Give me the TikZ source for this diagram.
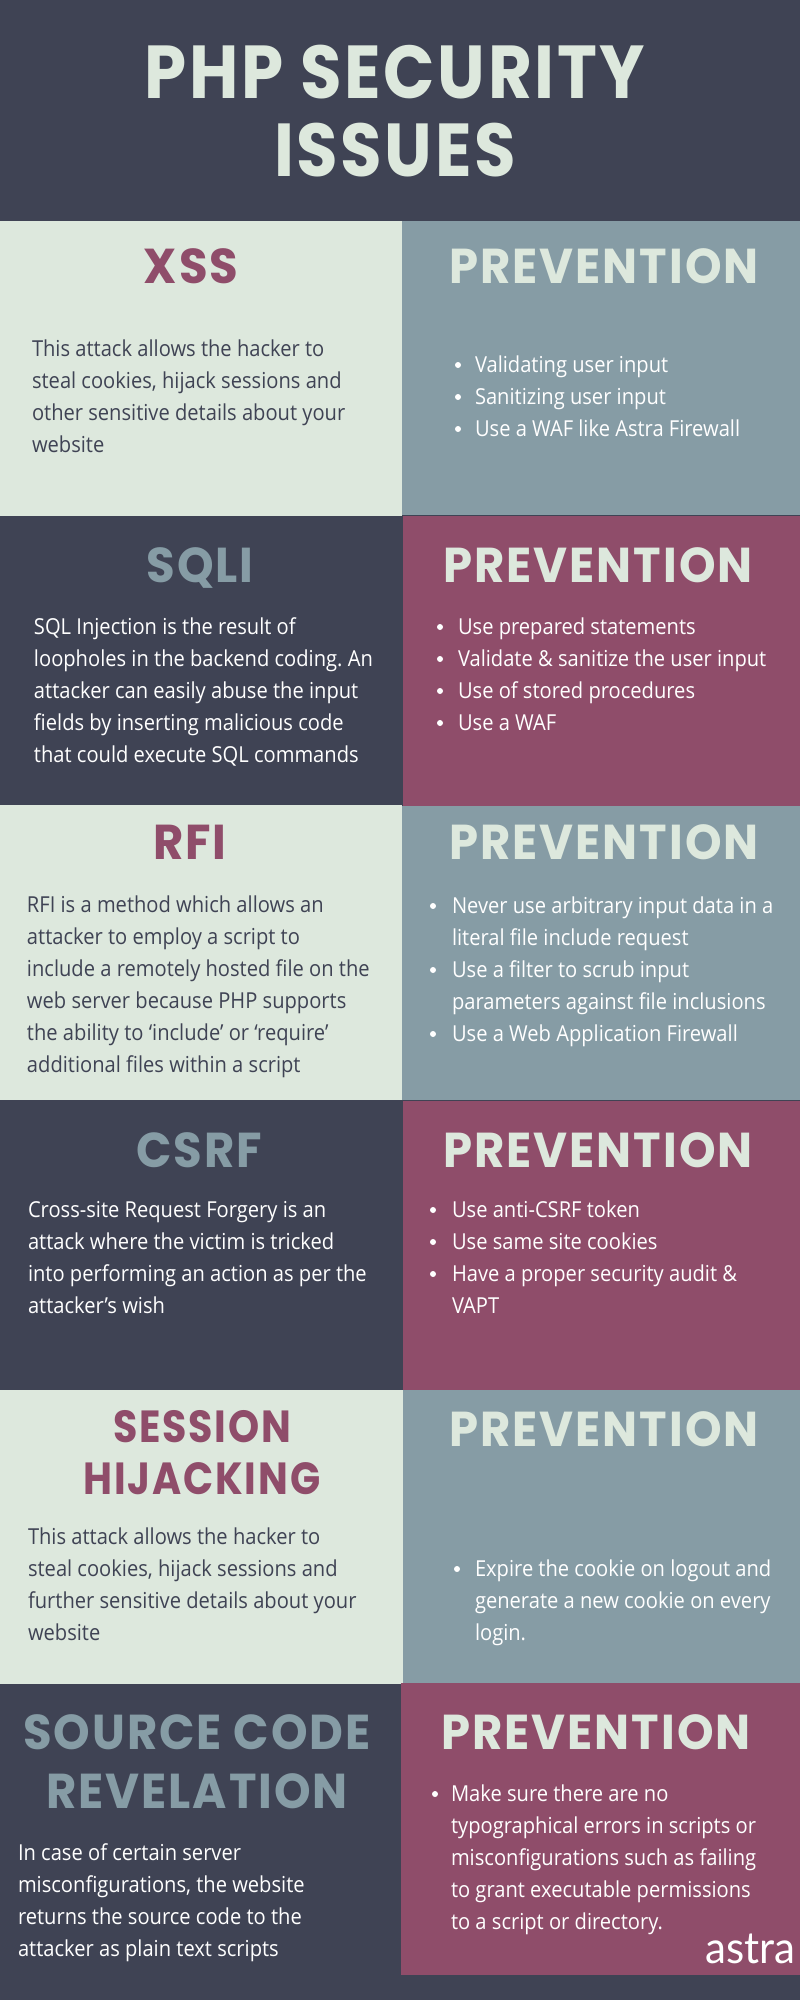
\documentclass[tikz,border=0pt]{standalone}
\usepackage{fontspec}
\setmainfont[FakeStretch=0.915]{Open Sans}
\newfontfamily\logofont[FakeStretch=0.955]{Lato}
\newfontfamily\headfont[FakeStretch=0.95,LetterSpace=4]{Poppins}
\newfontfamily\sessfont[FakeStretch=0.88,LetterSpace=4]{Poppins}
\newfontfamily\titlefont[FakeStretch=0.9,LetterSpace=3.5]{Poppins}
\definecolor{inkdark}{HTML}{3F4354}
\definecolor{paleg}{HTML}{DDE8DD}
\definecolor{slate}{HTML}{869CA5}
\definecolor{plum}{HTML}{8F4D6A}
\frenchspacing
\tikzset{
  x=1pt,y=-1pt,
  txt/.style={inner sep=0,outer sep=0,anchor=base west,font=\fontsize{22}{32}\selectfont\frenchspacing},
  tdark/.style={txt,text=inkdark},
  twhite/.style={txt,text=white},
  dot/.style={circle,fill=white,inner sep=0,minimum size=6pt},
  head/.style={inner sep=0,outer sep=0,anchor=base,font=\headfont\bfseries\fontsize{49}{49}\selectfont},
  smallhead/.style={head,font=\sessfont\bfseries\fontsize{45}{45}\selectfont},
  bighead/.style={inner sep=0,outer sep=0,anchor=base,text=paleg,font=\titlefont\bfseries\fontsize{75}{75}\selectfont},
}
\begin{document}
\begin{tikzpicture}
\useasboundingbox (0,0) rectangle (800,2000);
\fill[inkdark] (0,0) rectangle (800,2000);
\fill[paleg] (0,221) rectangle (402,516);
\fill[paleg] (0,805) rectangle (402,1100);
\fill[paleg] (0,1390) rectangle (403,1684);
\fill[slate] (402,221) rectangle (800,514.5);
\fill[slate] (402,806) rectangle (800,1100);
\fill[slate] (403,1390) rectangle (800,1683);
\fill[plum] (403,516) rectangle (800,806);
\fill[plum] (403,1100.5) rectangle (800,1390);
\fill[plum] (401,1683) rectangle (800,1975);
% title
\node[bighead] (t1) at (395,98) {PHP SECURITY};
\node[bighead] (t2) at (395,176) {ISSUES};
% XSS
\node[head,text=plum] (h1) at (191,283) {XSS};
\node[head,text=paleg] (p1) at (604,283) {PREVENTION};
\node[tdark] (a1) at (32,356) {This attack allows the hacker to};
\node[tdark] (a2) at (32,388) {steal cookies, hijack sessions and};
\node[tdark] (a3) at (32,420) {other sensitive details about your};
\node[tdark] (a4) at (32,452) {website};
\node[dot] at (458,365) {};\node[twhite] (b1) at (475,372) {Validating user input};
\node[dot] at (458,397) {};\node[twhite] (b2) at (475,404) {Sanitizing user input};
\node[dot] at (458,429) {};\node[twhite] (b3) at (475,436) {Use a WAF like Astra Firewall};
% SQLI
\node[head,text=slate] (h2) at (200,582) {SQLI};
\node[head,text=paleg] (p2) at (598,582) {PREVENTION};
\node[twhite] (c1) at (34,634) {SQL Injection is the result of};
\node[twhite] (c2) at (34,666) {loopholes in the backend coding. An};
\node[twhite] (c3) at (34,698) {attacker can easily abuse the input};
\node[twhite] (c4) at (34,730) {fields by inserting malicious code};
\node[twhite] (c5) at (34,762) {that could execute SQL commands};
\node[dot] at (440,627) {};\node[twhite] (d1) at (458,634) {Use prepared statements};
\node[dot] at (440,659) {};\node[twhite] (d2) at (458,666) {Validate \& sanitize the user input};
\node[dot] at (440,691) {};\node[twhite] (d3) at (458,698) {Use of stored procedures};
\node[dot] at (440,723) {};\node[twhite] (d4) at (458,730) {Use a WAF};
% RFI
\node[head,text=plum] (h3) at (190,859) {RFI};
\node[head,text=paleg] (p3) at (604,859) {PREVENTION};
\node[tdark] (e1) at (27,912) {RFI is a method which allows an};
\node[tdark] (e2) at (27,944) {attacker to employ a script to};
\node[tdark] (e3) at (27,976) {include a remotely hosted file on the};
\node[tdark] (e4) at (27,1008) {web server because PHP supports};
\node[tdark] (e5) at (27,1040) {the ability to ‘include’ or ‘require’};
\node[tdark] (e6) at (27,1072) {additional files within a script};
\node[dot] at (433,906) {};\node[twhite] (f1) at (452,913) {Never use arbitrary input data in a};
\node[twhite] (f2) at (452,945) {literal file include request};
\node[dot] at (433,970) {};\node[twhite] (f3) at (452,977) {Use a filter to scrub input};
\node[twhite] (f4) at (452,1009) {parameters against file inclusions};
\node[dot] at (433,1034) {};\node[twhite] (f5) at (452,1041) {Use a Web Application Firewall};
% CSRF
\node[head,text=slate] (h4) at (199,1167) {CSRF};
\node[head,text=paleg] (p4) at (598,1167) {PREVENTION};
\node[twhite] (g1) at (28,1217) {Cross-site Request Forgery is an};
\node[twhite] (g2) at (28,1249) {attack where the victim is tricked};
\node[twhite] (g3) at (28,1281) {into performing an action as per the};
\node[twhite] (g4) at (28,1313) {attacker’s wish};
\node[dot] at (433,1210) {};\node[twhite] (i1) at (452,1217) {Use anti-CSRF token};
\node[dot] at (433,1242) {};\node[twhite] (i2) at (452,1249) {Use same site cookies};
\node[dot] at (433,1274) {};\node[twhite] (i3) at (452,1281) {Have a proper security audit \&};
\node[twhite] (i4) at (452,1313) {VAPT};
% Session
\node[smallhead,text=plum] (h5a) at (202,1442) {SESSION};
\node[smallhead,text=plum] (h5b) at (202,1494) {HIJACKING};
\node[head,text=paleg] (p5) at (604,1446) {PREVENTION};
\node[tdark] (j1) at (28,1544) {This attack allows the hacker to};
\node[tdark] (j2) at (28,1576) {steal cookies, hijack sessions and};
\node[tdark] (j3) at (28,1608) {further sensitive details about your};
\node[tdark] (j4) at (28,1640) {website};
\node[dot] at (457,1569) {};\node[twhite] (k1) at (475,1576) {Expire the cookie on logout and};
\node[twhite] (k2) at (475,1608) {generate a new cookie on every};
\node[twhite] (k3) at (475,1640) {login.};
% Source
\node[head,text=slate] (h6a) at (197,1749) {SOURCE CODE};
\node[head,text=slate] (h6b) at (197,1808) {REVELATION};
\node[head,text=paleg] (p6) at (596,1749) {PREVENTION};
\node[twhite] (m1) at (18,1860) {In case of certain server};
\node[twhite] (m2) at (18,1892) {misconfigurations, the website};
\node[twhite] (m3) at (18,1924) {returns the source code to the};
\node[twhite] (m4) at (18,1956) {attacker as plain text scripts};
\node[dot] at (435,1794) {};\node[twhite] (n1) at (451,1801) {Make sure there are no};
\node[twhite] (n2) at (451,1833) {typographical errors in scripts or};
\node[twhite] (n3) at (451,1865) {misconfigurations such as failing};
\node[twhite] (n4) at (451,1897) {to grant executable permissions};
\node[twhite] (n5) at (451,1929) {to a script or directory.};
\node[inner sep=0,anchor=base east,text=white,font=\logofont\fontsize{44}{44}\selectfont] (logo) at (796,1963) {astra};
\end{tikzpicture}
\end{document}
